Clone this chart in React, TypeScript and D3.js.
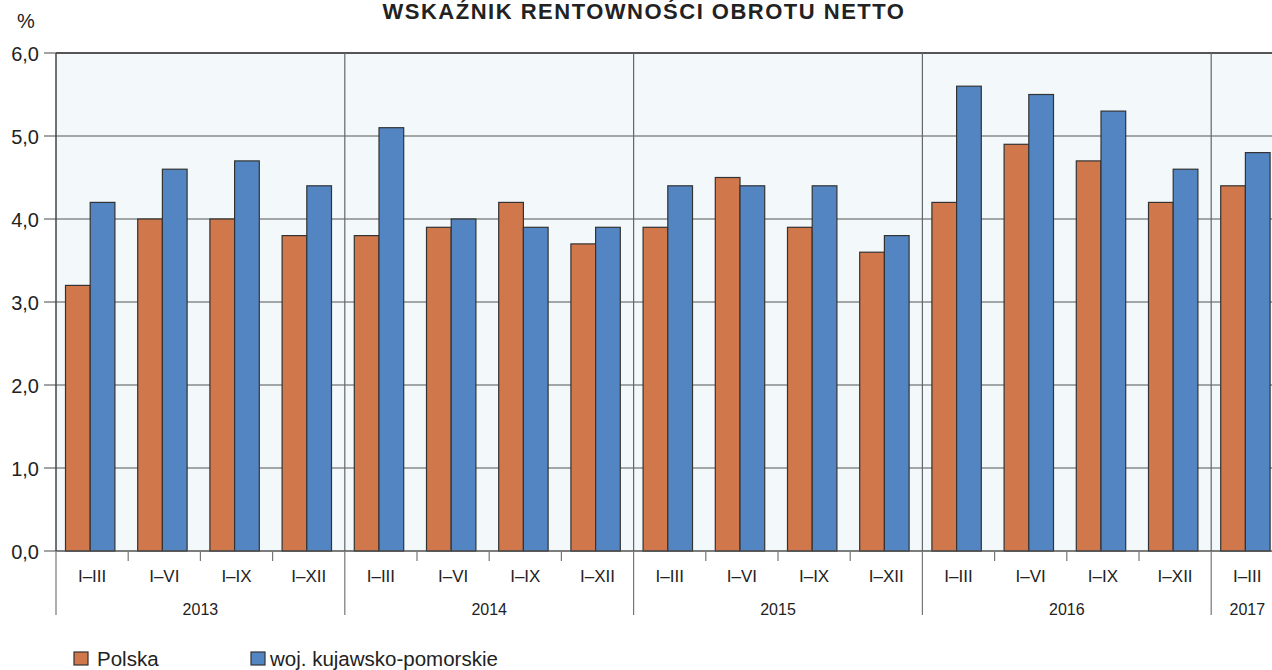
import React from "react";
import * as d3 from "d3";

const years = ["2013", "2014", "2015", "2016", "2017"];
const periods = [
  ["2013", "I–III"], ["2013", "I–VI"], ["2013", "I–IX"], ["2013", "I–XII"],
  ["2014", "I–III"], ["2014", "I–VI"], ["2014", "I–IX"], ["2014", "I–XII"],
  ["2015", "I–III"], ["2015", "I–VI"], ["2015", "I–IX"], ["2015", "I–XII"],
  ["2016", "I–III"], ["2016", "I–VI"], ["2016", "I–IX"], ["2016", "I–XII"],
  ["2017", "I–III"],
];
const polska = [3.2, 4.0, 4.0, 3.8, 3.8, 3.9, 4.2, 3.7, 3.9, 4.5, 3.9, 3.6, 4.2, 4.9, 4.7, 4.2, 4.4];
const kujawsko = [4.2, 4.6, 4.7, 4.4, 5.1, 4.0, 3.9, 3.9, 4.4, 4.4, 4.4, 3.8, 5.6, 5.5, 5.3, 4.6, 4.8];
const yTicks = [0, 1, 2, 3, 4, 5, 6];
const seriesNames = ["Polska", "woj. kujawsko-pomorskie"];
const colors = ["#D0774B", "#5385C3"];

const W = 1272;
const H = 670;
const left = 56;
const top = 53;
const bottom = 551;
const catW = 72.2;

export default function App() {
  const keys = periods.map((p) => p[0] + " " + p[1]);
  const x = d3.scaleBand<string>().domain(keys).range([left, left + catW * keys.length]).padding(0);
  const inner = d3.scaleBand<number>().domain([0, 1]).range([9.5, 9.5 + 49.4]).padding(0);
  const y = d3.scaleLinear().domain([0, 6]).range([bottom, top]);
  const plotRight = left + catW * keys.length;
  const font = "'Liberation Sans', Arial, sans-serif";

  const yearStarts = years.map((yr) => {
    const idx = periods.findIndex((p) => p[0] === yr);
    const n = periods.filter((p) => p[0] === yr).length;
    return { yr, x0: x(keys[idx])!, x1: x(keys[idx])! + x.bandwidth() * n };
  });

  return (
    <svg width={W} height={H} style={{ position: "absolute", left: 0, top: 0, background: "#fff" }} fontFamily={font}>
      <text x={644} y={19} textAnchor="middle" fontSize={22} fontWeight="bold" letterSpacing={1.5} fill="#222">
        WSKAŹNIK RENTOWNOŚCI OBROTU NETTO
      </text>
      <text x={17} y={28} fontSize={20} fill="#222">%</text>

      <rect x={left} y={top} width={plotRight - left} height={bottom - top} fill="#F3F8FB" />

      {yTicks.map((t) => (
        <g key={t}>
          <line x1={left} x2={plotRight} y1={y(t)} y2={y(t)} stroke="#555" strokeWidth={t === 6 ? 2 : 1.2} />
          <line x1={44} x2={left} y1={y(t)} y2={y(t)} stroke="#666" strokeWidth={1.2} />
          <text x={39} y={y(t) + 7.5} textAnchor="end" fontSize={20} fill="#222">
            {d3.format(".1f")(t).replace(".", ",")}
          </text>
        </g>
      ))}

      {yearStarts.map((ys, i) =>
        i > 0 ? (
          <line key={ys.yr} x1={ys.x0} x2={ys.x0} y1={top} y2={bottom} stroke="#666" strokeWidth={1.2} />
        ) : null
      )}

      {keys.map((k, i) => (
        <g key={k} transform={`translate(${x(k)},0)`}>
          {[polska[i], kujawsko[i]].map((v, s) => (
            <rect
              key={s}
              x={inner(s)}
              y={y(v)}
              width={inner.bandwidth()}
              height={bottom - y(v)}
              fill={colors[s]}
              stroke="#333"
              strokeWidth={1.2}
            />
          ))}
        </g>
      ))}

      <line x1={left} x2={left} y1={top} y2={bottom} stroke="#444" strokeWidth={1.5} />
      <line x1={left} x2={plotRight} y1={bottom} y2={bottom} stroke="#555" strokeWidth={1.2} />

      {keys.map((k, i) => {
        const isYearStart = i === 0 || periods[i][0] !== periods[i - 1][0];
        return (
          <g key={"c" + k}>
            <line x1={x(k)} x2={x(k)} y1={bottom} y2={isYearStart ? 615 : 561} stroke="#777" strokeWidth={1.2} />
            <text x={x(k)! + x.bandwidth() / 2} y={582} textAnchor="middle" fontSize={17} fill="#222">
              {periods[i][1]}
            </text>
          </g>
        );
      })}

      {yearStarts.map((ys) => (
        <text key={"y" + ys.yr} x={(ys.x0 + ys.x1) / 2} y={615} textAnchor="middle" fontSize={16} fill="#222">
          {ys.yr}
        </text>
      ))}

      {seriesNames.map((name, i) => {
        const lx = i === 0 ? 74 : 251;
        return (
          <g key={name}>
            <rect x={lx} y={652} width={14} height={13} fill={colors[i]} stroke="#333" strokeWidth={1.2} />
            <text x={i === 0 ? 97 : 270} y={666} fontSize={20.5} fill="#222">{name}</text>
          </g>
        );
      })}
    </svg>
  );
}
